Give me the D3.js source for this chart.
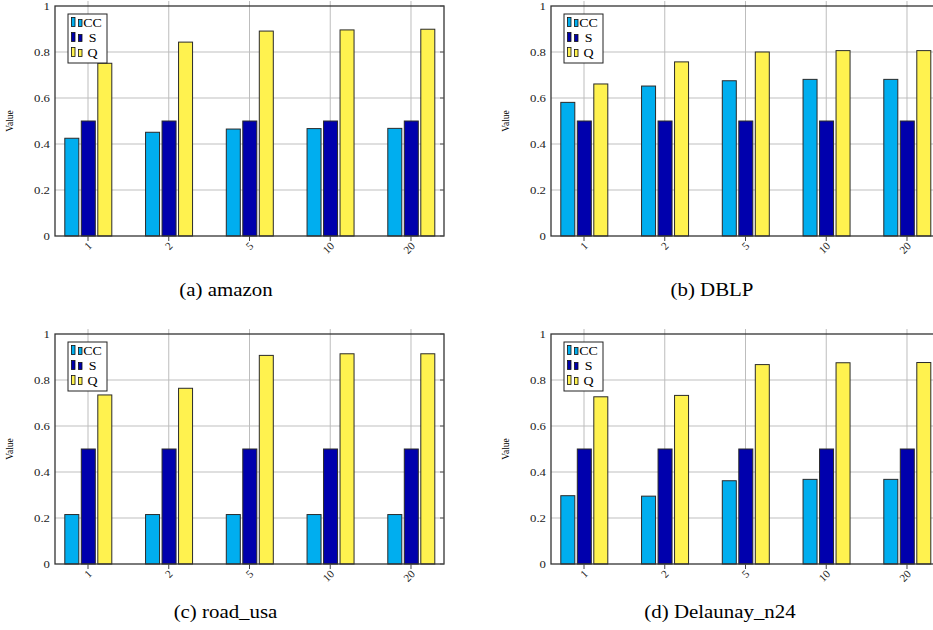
<!DOCTYPE html>
<html>
<head>
<meta charset="utf-8">
<script src="https://cdn.jsdelivr.net/npm/d3@7"></script>
<style>
  body { margin: 0; background: #fff; }
</style>
</head>
<body>
<svg id="chart" width="933" height="630" font-family="'Liberation Serif', 'Times New Roman', Times, serif"></svg>
<script>
// categories / series / ticks
var cats = ["1", "2", "5", "10", "20"];
var series = ["CC", "S", "Q"];
var yTicks = [0, 0.2, 0.4, 0.6, 0.8, 1];
var colors = ["#00AEEF", "#0000AD", "#FFF24F"];

// values
var amazonCC = [0.425, 0.451, 0.465, 0.467, 0.468];
var amazonS = [0.5, 0.5, 0.5, 0.5, 0.5];
var amazonQ = [0.751, 0.843, 0.891, 0.896, 0.899];

var dblpCC = [0.581, 0.652, 0.675, 0.681, 0.681];
var dblpS = [0.5, 0.5, 0.5, 0.5, 0.5];
var dblpQ = [0.661, 0.757, 0.8, 0.806, 0.806];

var roadCC = [0.215, 0.215, 0.215, 0.215, 0.215];
var roadS = [0.5, 0.5, 0.5, 0.5, 0.5];
var roadQ = [0.735, 0.764, 0.907, 0.914, 0.914];

var delaunayCC = [0.297, 0.295, 0.362, 0.368, 0.368];
var delaunayS = [0.5, 0.5, 0.5, 0.5, 0.5];
var delaunayQ = [0.727, 0.733, 0.867, 0.875, 0.876];

var panels = [
  { caption: "(a) amazon", vals: [amazonCC, amazonS, amazonQ] },
  { caption: "(b) DBLP", vals: [dblpCC, dblpS, dblpQ] },
  { caption: "(c) road_usa", vals: [roadCC, roadS, roadQ] },
  { caption: "(d) Delaunay_n24", vals: [delaunayCC, delaunayS, delaunayQ] },
];
// layout of each panel (plot left/top, caption centre)
var layout = [
  { left: 55, top: 6, capX: 226, capY: 296 },
  { left: 551, top: 6, capX: 712, capY: 296 },
  { left: 55, top: 334, capX: 225.5, capY: 618 },
  { left: 551, top: 334, capX: 720, capY: 618 },
];

var width = 389, height = 230;
var stretch = 1.16; // the figure is a bit wider than tall
var svg = d3.select("#chart");

var xScale = d3.scalePoint().domain(cats).range([0, width]).padding(0.4087);
var yScale = d3.scaleLinear().domain([0, 1]).range([height, 0]);
var offset = d3.scalePoint().domain(series).range([-16.5, 16.5]);
var barW = 14;

panels.forEach(function (p, pi) {
  var L = layout[pi];
  var g = svg.append("g").attr("transform", "translate(" + L.left + "," + L.top + ")");

  // grid
  g.selectAll(".hgrid")
    .data(yTicks.slice(1, -1))
    .enter()
    .append("line")
    .attr("x1", 0)
    .attr("x2", width)
    .attr("y1", (d) => yScale(d))
    .attr("y2", (d) => yScale(d))
    .attr("stroke", "#d4d4d4")
    .attr("stroke-width", 1.3);
  g.selectAll(".vgrid")
    .data(cats)
    .enter()
    .append("line")
    .attr("x1", (d) => xScale(d))
    .attr("x2", (d) => xScale(d))
    .attr("y1", -5)
    .attr("y2", height)
    .attr("stroke", "#bdbdbd")
    .attr("stroke-width", 1);

  // bars
  series.forEach(function (s, si) {
    g.selectAll(".bar" + si)
      .data(p.vals[si])
      .enter()
      .append("rect")
      .attr("x", (d, i) => xScale(cats[i]) + offset(s) - barW / 2 + 0.3)
      .attr("y", (d) => yScale(d))
      .attr("width", barW)
      .attr("height", (d) => height - yScale(d))
      .attr("fill", colors[si])
      .attr("stroke", "#2a2a2a")
      .attr("stroke-width", 1);
  });

  // frame
  g.append("rect")
    .attr("width", width)
    .attr("height", height)
    .attr("fill", "none")
    .attr("stroke", "#333")
    .attr("stroke-width", 1.3);

  // y ticks + labels
  g.selectAll(".ytl")
    .data(yTicks)
    .enter()
    .append("text")
    .attr("transform", (d) => "translate(-5," + (yScale(d) + 3.5) + ")scale(" + stretch + ",1)")
    .attr("text-anchor", "end")
    .style("font-size", "11px")
    .attr("fill", "#222")
    .text((d) => d3.format("")(d));
  g.selectAll(".ytr")
    .data(yTicks)
    .enter()
    .append("line")
    .attr("x1", width - 4)
    .attr("x2", width)
    .attr("y1", (d) => yScale(d))
    .attr("y2", (d) => yScale(d))
    .attr("stroke", "#555");

  // x ticks + rotated labels
  g.selectAll(".xt")
    .data(cats)
    .enter()
    .append("line")
    .attr("x1", (d) => xScale(d))
    .attr("x2", (d) => xScale(d))
    .attr("y1", height)
    .attr("y2", height + 5)
    .attr("stroke", "#444");
  g.selectAll(".xtl")
    .data(cats)
    .enter()
    .append("text")
    .attr("transform", (d) => "translate(" + (xScale(d) + 2) + "," + (height + 8) + ")rotate(-45)")
    .attr("text-anchor", "end")
    .attr("dy", "0.35em")
    .style("font-size", "11px")
    .attr("fill", "#222")
    .text((d) => d);

  // y axis title
  g.append("text")
    .attr("transform", "translate(" + (-42) + "," + height / 2 + ")rotate(-90)")
    .attr("text-anchor", "middle")
    .style("font-size", "9.5px")
    .text("Value");

  // legend
  var lg = g.append("g").attr("transform", "translate(13,8)");
  lg.append("rect")
    .attr("width", 39)
    .attr("height", 49)
    .attr("fill", "#fff")
    .attr("stroke", "#222")
    .attr("stroke-width", 1);
  series.forEach(function (s, si) {
    var cy = 9 + si * 15;
    lg.append("rect")
      .attr("x", 3.5).attr("y", cy - 5.5)
      .attr("width", 3.5).attr("height", 9)
      .attr("fill", colors[si]).attr("stroke", "#111").attr("stroke-width", 0.8);
    lg.append("rect")
      .attr("x", 10.5).attr("y", cy - 3.5)
      .attr("width", 3.5).attr("height", 7)
      .attr("fill", colors[si]).attr("stroke", "#111").attr("stroke-width", 0.8);
    lg.append("text")
      .attr("transform", "translate(24.5," + (cy + 4) + ")scale(" + stretch + ",1)")
      .attr("text-anchor", "middle")
      .style("font-size", "12px")
      .text(s);
  });

  // caption
  svg.append("text")
    .attr("transform", "translate(" + L.capX + "," + L.capY + ")scale(" + stretch + ",1)")
    .attr("text-anchor", "middle")
    .style("font-size", "18px")
    .text(p.caption);
});
</script>
</body>
</html>
